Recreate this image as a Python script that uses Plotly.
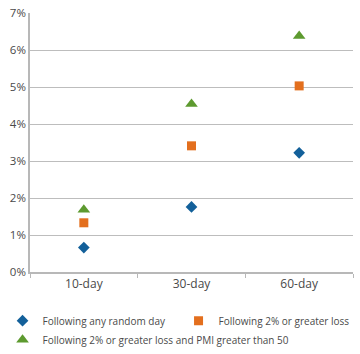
import plotly.graph_objects as go

categories = ["10-day", "30-day", "60-day"]
random_day = [0.66, 1.76, 3.22]
loss_2pct = [1.33, 3.41, 5.03]
loss_pmi = [1.68, 4.54, 6.38]
y_ticks = [0, 1, 2, 3, 4, 5, 6, 7]
y_tick_labels = [f"{v}%" for v in y_ticks]

series = [
    ("Following any random day", random_day, "diamond", "#13609a", 9),
    ("Following 2% or greater loss", loss_2pct, "square", "#e36f1e", 9),
    ("Following 2% or greater loss and PMI greater than 50", loss_pmi, "triangle-up", "#5d9a2f", 11),
]

fig = go.Figure()
for name, vals, sym, col, sz in series:
    fig.add_trace(go.Scatter(
        x=categories, y=vals, mode="markers", name=name,
        marker=dict(symbol=sym, color=col, size=sz, line=dict(width=0)),
    ))

fig.update_layout(
    width=360, height=354,
    margin=dict(l=30, r=7, t=13, b=82, autoexpand=False),
    paper_bgcolor="white", plot_bgcolor="white",
    font=dict(family="Open Sans", size=12, color="#4a4a4a"),
    showlegend=True,
    legend=dict(orientation="h", x=-0.085, xanchor="left", y=-0.132, yanchor="top",
                font=dict(size=10, color="#4a4a4a"), itemwidth=30,
                tracegroupgap=0, entrywidth=131, entrywidthmode="pixels"),
    xaxis=dict(type="category", showgrid=False, showline=True, linecolor="#b8b8b8",
               linewidth=1.5, ticks="outside", tickson="boundaries", ticklen=4,
               tickcolor="#b8b8b8", range=[-0.5, 2.5], tickfont=dict(size=12)),
    yaxis=dict(range=[0, 7], tickvals=y_ticks, ticktext=y_tick_labels,
               showgrid=True, gridcolor="#bdbdbd", gridwidth=1.3,
               showline=True, linecolor="#b8b8b8", linewidth=1.5,
               zeroline=False, ticks="", tickfont=dict(size=11.5)),
)

fig.write_html("out.html")
